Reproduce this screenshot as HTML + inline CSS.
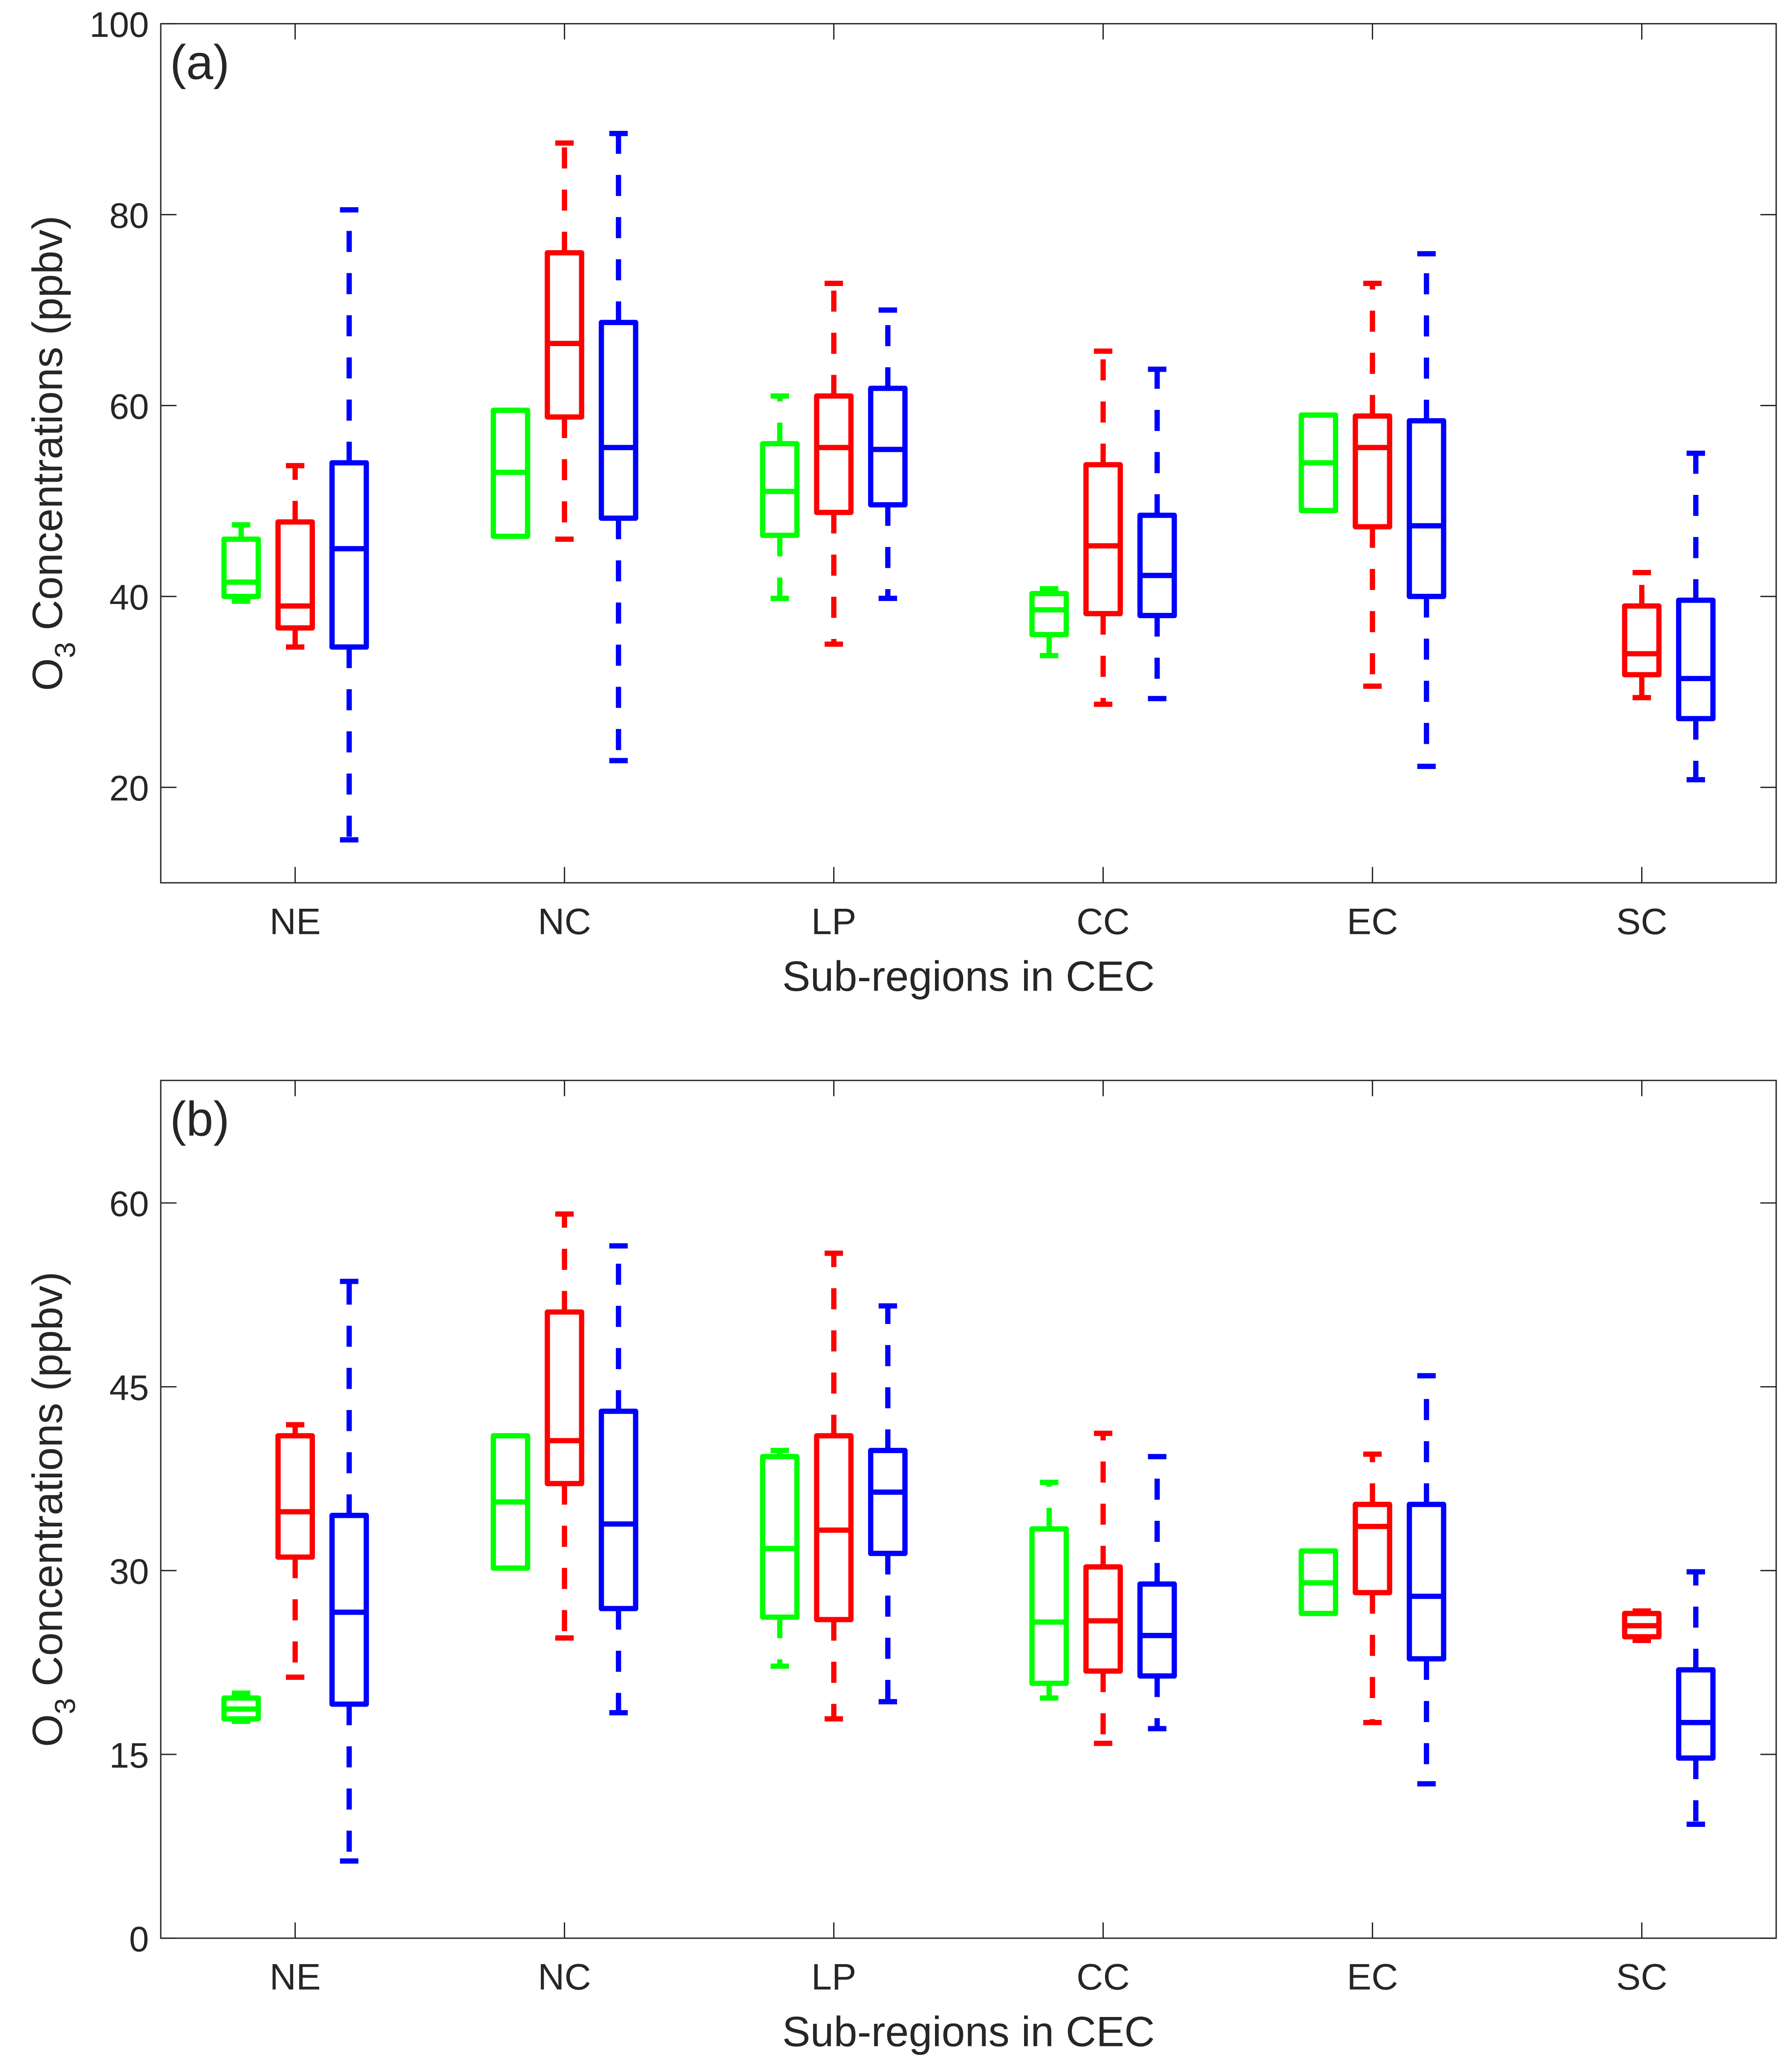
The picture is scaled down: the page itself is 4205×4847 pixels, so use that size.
<!DOCTYPE html>
<html><head><meta charset="utf-8"><style>
html,body{margin:0;padding:0;background:#fff}
svg{display:block}
text{font-family:"Liberation Sans",Arial,sans-serif;fill:#262626}
</style></head><body>
<svg id="chart" width="4205" height="4847" viewBox="0 0 1360 1568" preserveAspectRatio="none" xmlns="http://www.w3.org/2000/svg"></svg>
<script>
const categories = ["NE","NC","LP","CC","EC","SC"];
const seriesColors = ["#00ff00","#ff0000","#0000ff"];
// each entry: [whiskerLow, q1, median, q3, whiskerHigh], null = absent
const panelA_green = [[39.5,40,41.5,46,47.5],[46.3,46.3,53,59.5,59.5],[39.8,46.4,51,56,61],[33.8,36,38.6,40.3,40.8],[49,49,54,59,59],null];
const panelA_red = [[34.7,36.7,39,47.8,53.7],[46,58.8,66.5,76,87.5],[35,48.8,55.6,61,72.8],[28.7,38.2,45.3,53.8,65.7],[30.6,47.3,55.6,58.9,72.8],[29.4,31.8,34,39,42.5]];
const panelA_blue = [[14.5,34.7,45,54,80.5],[22.8,48.2,55.6,68.7,88.5],[39.8,49.6,55.4,61.8,70],[29.3,38,42.2,48.5,63.8],[22.2,40,47.4,58.4,75.9],[20.8,27.2,31.4,39.6,55]];
const panelB_green = [[17.7,17.9,18.7,19.6,20],[30.2,30.2,35.6,41,41],[22.2,26.2,31.8,39.3,39.8],[19.6,20.8,25.8,33.4,37.2],[26.5,26.5,29,31.6,31.6],null];
const panelB_red = [[21.3,31.1,34.8,41,41.9],[24.5,37.1,40.6,51.1,59.1],[17.9,26,33.3,41,55.9],[15.9,21.8,25.9,30.3,41.2],[17.6,28.2,33.6,35.4,39.5],[24.3,24.6,25.5,26.5,26.7]];
const panelB_blue = [[6.3,19.1,26.6,34.5,53.6],[18.4,26.9,33.8,43,56.5],[19.3,31.4,36.4,39.8,51.6],[17.1,21.4,24.7,28.9,39.3],[12.6,22.8,27.9,35.4,45.9],[9.3,14.7,17.6,21.9,29.9]];
const ticksA = [20,40,60,80,100];
const ticksB = [0,15,30,45,60];

const NS="http://www.w3.org/2000/svg";
const svg=document.getElementById('chart');
function mk(tag,attrs,parent){const e=document.createElementNS(NS,tag);for(const k in attrs)e.setAttribute(k,attrs[k]);(parent||svg).appendChild(e);return e;}

function panel(key,top,bottom,ymin,ymax,ticks,series,letter){
  const L=122,R=1348;
  const g=mk('g',{});
  
  
  const y=v=>bottom-(v-ymin)/(ymax-ymin)*(bottom-top);
  const x=i=>224+i*204.4;
  const frame=mk('rect',{x:L,y:top,width:R-L,height:bottom-top,fill:'none',stroke:'#262626','stroke-width':1},g);
  
  
  ticks.forEach(t=>{
    const yy=y(t);
    mk('line',{x1:L,x2:L+12,y1:yy,y2:yy,stroke:'#262626','stroke-width':1},g);
    mk('line',{x1:R,x2:R-12,y1:yy,y2:yy,stroke:'#262626','stroke-width':1},g);
    const tl=mk('text',{x:L-9,y:yy+10,'text-anchor':'end','font-size':27},g);
    tl.textContent=t;
    
    
  });
  categories.forEach((c,i)=>{
    mk('line',{x1:x(i),x2:x(i),y1:bottom,y2:bottom-12,stroke:'#262626','stroke-width':1},g);
    mk('line',{x1:x(i),x2:x(i),y1:top,y2:top+12,stroke:'#262626','stroke-width':1},g);
    const tl=mk('text',{x:x(i),y:bottom+39,'text-anchor':'middle','font-size':28},g);
    tl.textContent=c;
    
    
  });
  const xt=mk('text',{x:735,y:bottom+82,'text-anchor':'middle','font-size':32},g);
  xt.textContent='Sub-regions in CEC';
  
  
  const cy=(top+bottom)/2;
  const yt=mk('text',{x:0,y:0,'text-anchor':'middle','font-size':32,transform:`translate(47,${cy}) rotate(-90)`},g);
  yt.innerHTML='O<tspan font-size="22" dy="10">3</tspan><tspan dy="-10"> Concentrations (ppbv)</tspan>';
  
  
  const pl=mk('text',{x:129,y:top+42,'font-size':37},g);
  pl.textContent=letter;
  
  
  series.forEach((arr,s)=>{
    arr.forEach((d,i)=>{
      if(!d)return;
      const cx=x(i)+(s-1)*41, col=seriesColors[s];
      const bg=mk('g',{stroke:col,'stroke-width':4,fill:'none'},g);
      
      
      mk('line',{x1:cx,x2:cx,y1:y(d[3]),y2:y(d[4]),'stroke-dasharray':'16 16'},bg);
      mk('line',{x1:cx,x2:cx,y1:y(d[1]),y2:y(d[0]),'stroke-dasharray':'16 16'},bg);
      mk('line',{x1:cx-7,x2:cx+7,y1:y(d[4]),y2:y(d[4])},bg);
      mk('line',{x1:cx-7,x2:cx+7,y1:y(d[0]),y2:y(d[0])},bg);
      mk('rect',{x:cx-13,y:y(d[3]),width:26,height:Math.max(1,y(d[1])-y(d[3])),'stroke-linejoin':'round'},bg);
      mk('line',{x1:cx-13,x2:cx+13,y1:y(d[2]),y2:y(d[2])},bg);
    });
  });
}
panel('a',18,670,10,100,ticksA,[panelA_green,panelA_red,panelA_blue],'(a)');
panel('b',820,1471,0,70,ticksB,[panelB_green,panelB_red,panelB_blue],'(b)');
</script>
</body></html>
